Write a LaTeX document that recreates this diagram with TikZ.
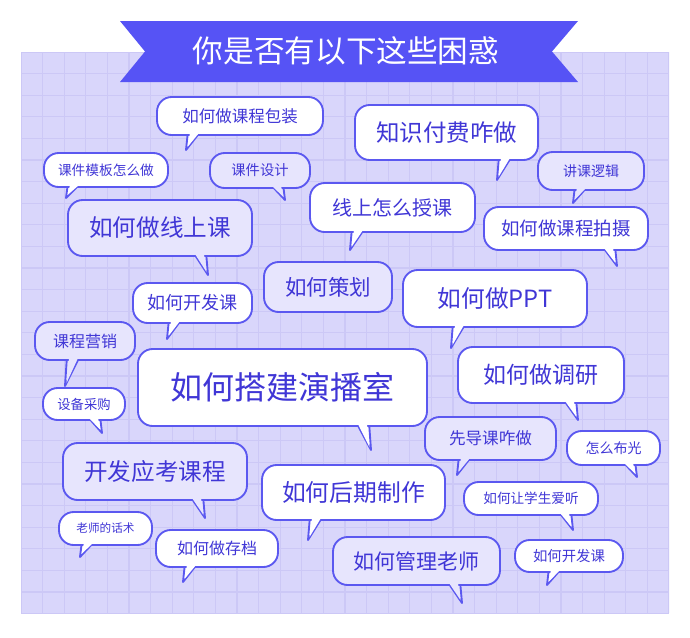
\documentclass[tikz,border=0pt]{standalone}
\usepackage{fontspec}
\newfontfamily\cjk{Noto Sans CJK SC}
\usetikzlibrary{positioning}
\definecolor{panel}{HTML}{D9D6FB}
\definecolor{gridc}{HTML}{CCC8F6}
\definecolor{banner}{HTML}{5653F5}
\definecolor{edge}{HTML}{5B58F0}
\definecolor{lav}{HTML}{E7E5FD}
\definecolor{ink}{HTML}{4036D6}
\tikzset{
  bub/.style={draw=edge, line width=1.4pt, rounded corners=11pt, line join=round},
  tailsty/.style={draw=edge, line width=1.4pt, line join=round},
  word/.style={text=ink, inner sep=0pt}
}
% \bubble{name}{x1}{y1}{x2}{y2}{tip x}{tip y}{dir: 1 left, -1 right}{em px}
\newcommand\bubble[9]{%
  \pgfmathsetmacro\bA{#6+#8*2}\pgfmathsetmacro\bB{#6+#8*15}%
  \pgfmathsetmacro\cA{#6+#8*4}\pgfmathsetmacro\cB{#6+#8*13}%
  \pgfmathsetmacro\fsz{#9*0.75}%
  \filldraw[tailsty, fill=\bfill] (\bA,#5-4) -- (#6,#7) -- (\bB,#5-4) -- cycle;
  \filldraw[bub, fill=\bfill] (#2,#3) rectangle (#4,#5);
  \fill[\bfill] (\cA,#5-2) -- (#6+#8*1.5,#7-3) -- (\cB,#5-2) -- cycle;
  \node[word, font=\cjk\fontsize{\fsz pt}{\fsz pt}\selectfont] (#1) at ({(#2+#4)/2},{(#3+#5)/2}) {\btext};
}
\newcommand\bfill{white}
\newcommand\btext{}
\newcommand\bub[3][white]{\renewcommand\bfill{#1}\renewcommand\btext{#2}#3}
\begin{document}
\begin{tikzpicture}[x=0.75pt,y=0.75pt,yscale=-1,xscale=1]
\useasboundingbox (0,0) rectangle (690,637);
\fill[white] (0,0) rectangle (690,637);
% panel with grid
\fill[panel] (21,52) rectangle (669,613);
\begin{scope}
\clip (21,52) rectangle (669,613);
\foreach \i in {0,...,30} {
  \draw[gridc, line width=0.8pt] (21+\i*21.6,52) -- (21+\i*21.6,613);
  \draw[gridc, line width=0.8pt] (21,52+\i*21.6) -- (669,52+\i*21.6);
}
\end{scope}
% banner
\fill[banner] (120,21) -- (578,21) -- (552,51.5) -- (578,82) -- (120,82) -- (145,51.5) -- cycle;
\node[text=white, font=\cjk\fontsize{23pt}{28pt}\selectfont] (title) at (346,51) {你是否有以下这些困惑};

% bubbles
\bub{如何做课程包装}{\bubble{b1}{157}{97}{323}{135}{186}{150}{1}{16.5}}
\bub{知识付费咋做}{\bubble{b2}{355}{105}{538}{160}{497}{180}{1}{23.5}}
\bub{课件模板怎么做}{\bubble{b3}{44}{153}{168}{187}{66}{198}{1}{13.7}}
\bub[lav]{课件设计}{\bubble{b4}{210}{153}{310}{188}{285}{200}{-1}{14.3}}
\bub[lav]{讲课逻辑}{\bubble{b5}{538}{152}{644}{190}{573}{203}{1}{14}}
\bub{线上怎么授课}{\bubble{b6}{310}{183}{475}{232}{350}{250}{1}{20}}
\bub[lav]{如何做线上课}{\bubble{b7}{68}{200}{252}{256}{208}{275}{-1}{23.6}}
\bub{如何做课程拍摄}{\bubble{b8}{484}{207}{648}{250}{617}{266}{-1}{18.5}}
\bub[lav]{如何策划}{\bubble{b9}{264}{262}{392}{312}{300}{312}{1}{21.5}}
\bub{如何开发课}{\bubble{b10}{133}{283}{252}{323}{167}{339}{1}{18}}
\bub{如何做PPT}{\bubble{b11}{403}{270}{587}{327}{451}{348}{1}{23.7}}
\bub[lav]{课程营销}{\bubble{b12}{35}{322}{135}{360}{65}{386}{1}{16}}
\bub{如何搭建演播室}{\bubble{b13}{138}{349}{427}{426}{371}{450}{-1}{32}}
\bub{如何做调研}{\bubble{b14}{458}{347}{624}{403}{578}{420}{-1}{23}}
\bub{设备采购}{\bubble{b15}{43}{388}{125}{420}{102}{433}{-1}{13.3}}
\bub[lav]{先导课咋做}{\bubble{b16}{425}{417}{556}{460}{457}{475}{1}{16.6}}
\bub{怎么布光}{\bubble{b17}{567}{431}{660}{465}{637}{477}{-1}{14}}
\bub[lav]{开发应考课程}{\bubble{b18}{63}{443}{247}{500}{205}{518}{-1}{23.6}}
\bub{如何后期制作}{\bubble{b19}{262}{465}{445}{520}{308}{540}{1}{23.8}}
\bub{如何让学生爱听}{\bubble{b20}{464}{482}{598}{515}{573}{530}{-1}{13.6}}
\bub{老师的话术}{\bubble{b21}{59}{512}{152}{545}{80}{557}{1}{11.6}}
\bub{如何做存档}{\bubble{b22}{156}{530}{278}{567}{183}{582}{1}{16}}
\bub[lav]{如何管理老师}{\bubble{b23}{333}{537}{500}{585}{462}{603}{-1}{21}}
\bub{如何开发课}{\bubble{b24}{515}{540}{623}{572}{547}{585}{1}{14.4}}
\end{tikzpicture}
\end{document}
